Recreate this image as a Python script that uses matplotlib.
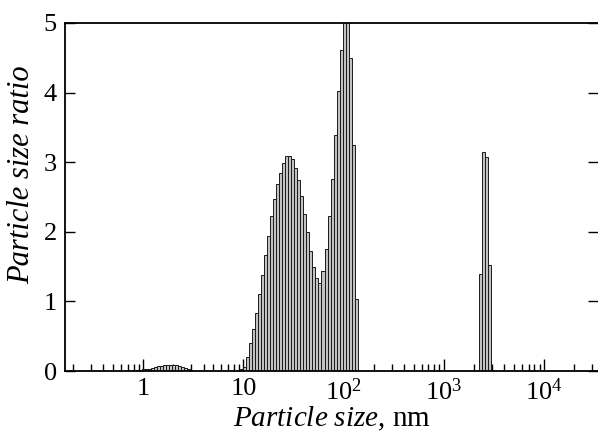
import numpy as np
import matplotlib
matplotlib.use("Agg")
from matplotlib import pyplot as plt
from matplotlib.ticker import FixedLocator, LogLocator, NullFormatter

plt.rcParams["font.family"] = "Liberation Serif"
plt.rcParams["mathtext.fontset"] = "custom"
plt.rcParams["mathtext.rm"] = "Liberation Serif"
plt.rcParams["mathtext.it"] = "Liberation Serif:italic"

# bin width of the size analyser, in decades
bin_log_width = 0.03

# small bump around 1-3 nm
bump_start_nm = 0.795
bump_ratio = [0.01, 0.015, 0.02, 0.025, 0.03, 0.035, 0.045, 0.055, 0.065, 0.075,
              0.08, 0.085, 0.085, 0.085, 0.08, 0.075, 0.06, 0.045, 0.03]

# main bimodal distribution, 10-150 nm
main_start_nm = 9.3
main_ratio = [0.03, 0.06, 0.20, 0.40, 0.60, 0.84, 1.10, 1.38, 1.66, 1.94,
              2.22, 2.47, 2.68, 2.85, 2.99, 3.09, 3.09, 3.04, 2.91, 2.74,
              2.51, 2.26, 2.00, 1.72, 1.49, 1.34, 1.27, 1.44, 1.76, 2.22,
              2.76, 3.39, 4.03, 4.61, 5.10, 5.10, 4.50, 3.24, 1.04]

# micron-sized aggregates
micro_start_nm = 2256
micro_ratio = [1.39, 3.14, 3.08, 1.53]

groups = [(bump_start_nm, bump_ratio), (main_start_nm, main_ratio),
          (micro_start_nm, micro_ratio)]

fig = plt.figure(figsize=(5.98, 4.32), dpi=100)
ax = fig.add_axes([65 / 598, 61 / 432, 533 / 598, 348 / 432])

for start, ratio in groups:
    lo = np.log10(start) + bin_log_width * np.arange(len(ratio))
    left = 10 ** lo
    width = 10 ** (lo + bin_log_width) - left
    ax.bar(left, ratio, width=width, align="edge", color="#c2c2c2",
           edgecolor="#1a1a1a", linewidth=0.7, zorder=2)

ax.set_xscale("log")
ax.set_xlim(0.1655, 34500)
ax.set_ylim(0, 5)

ax.xaxis.set_major_locator(FixedLocator([1, 10, 100, 1000, 10000]))
ax.set_xticklabels(["1", "10", r"$10^2$", r"$10^3$", r"$10^4$"])
ax.xaxis.set_minor_locator(LogLocator(base=10, subs=np.arange(2, 10), numticks=20))
ax.xaxis.set_minor_formatter(NullFormatter())
ax.set_yticks([0, 1, 2, 3, 4, 5])

ax.tick_params(axis="x", which="major", direction="in", length=9, width=1,
               labelsize=19, pad=5, top=False)
ax.tick_params(axis="x", which="minor", direction="in", length=5, width=1, top=False)
ax.tick_params(axis="y", direction="in", length=7, width=1, labelsize=19,
               pad=6, right=True)

for side in ["left", "bottom", "top"]:
    ax.spines[side].set_linewidth(1.3)
ax.spines["right"].set_visible(False)

ax.set_xlabel(r"$\mathit{Particle\ size}$, nm", fontsize=21, labelpad=0)
ax.set_ylabel("Particle size ratio", fontsize=22, fontstyle="italic")
ax.yaxis.set_label_coords(-0.055, 0.563)

plt.savefig("out.png", dpi=100)
